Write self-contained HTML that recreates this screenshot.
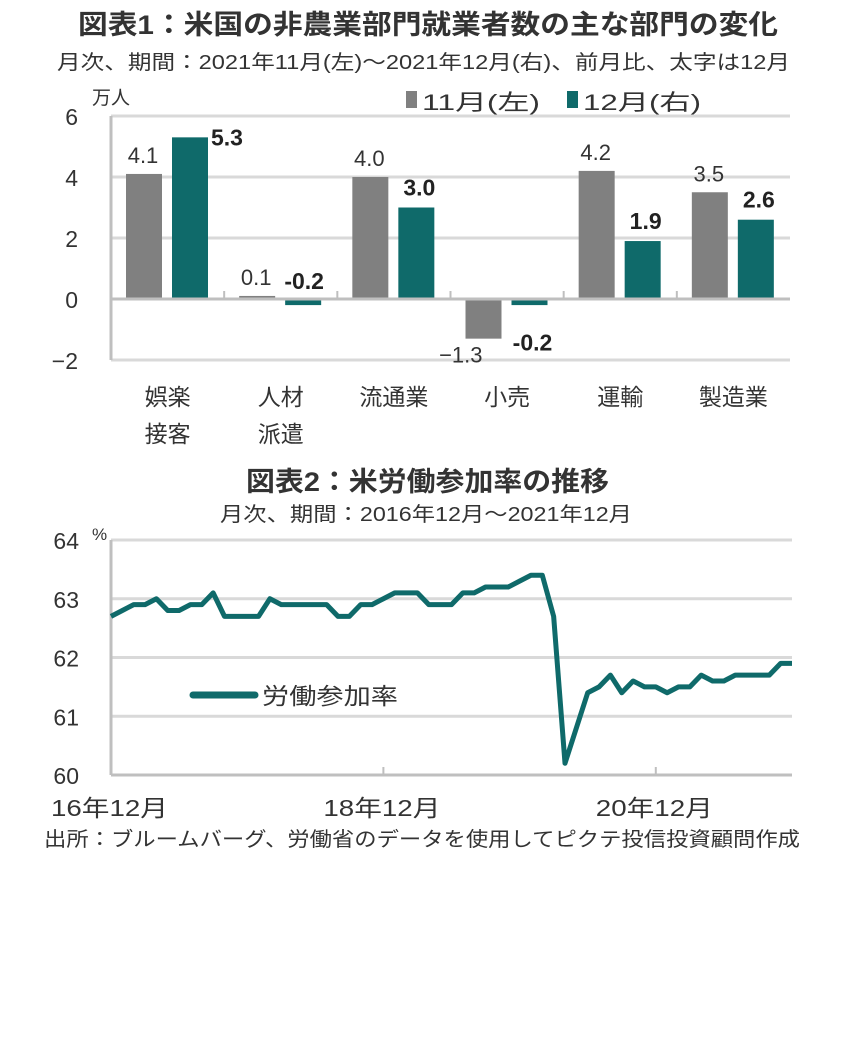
<!DOCTYPE html>
<html><head><meta charset="utf-8"><style>
body{margin:0;background:#fff;width:854px;height:1052px;overflow:hidden}
svg{font-family:"Liberation Sans","Noto Sans CJK JP",sans-serif}
</style></head><body>
<svg id="c" width="854" height="1052">
<text x="78" y="34" font-size="27" font-weight="bold" fill="#333" textLength="700" lengthAdjust="spacingAndGlyphs">図表1：米国の非農業部門就業者数の主な部門の変化</text>
<text x="57" y="69" font-size="20" fill="#333" textLength="733" lengthAdjust="spacingAndGlyphs">月次、期間：2021年11月(左)～2021年12月(右)、前月比、太字は12月</text>
<text x="92" y="104" font-size="19" fill="#333">万人</text>
<rect x="406" y="91" width="11" height="17" fill="#808080"/>
<text x="422" y="110" font-size="22" fill="#333" textLength="118" lengthAdjust="spacingAndGlyphs">11月(左)</text>
<rect x="567" y="91" width="11" height="17" fill="#0f6a6a"/>
<text x="583" y="110" font-size="22" fill="#333" textLength="118" lengthAdjust="spacingAndGlyphs">12月(右)</text>
<g id="g1"></g>
<text x="246" y="491" font-size="27" font-weight="bold" fill="#333" textLength="363" lengthAdjust="spacingAndGlyphs">図表2：米労働参加率の推移</text>
<text x="220" y="521" font-size="20" fill="#333" textLength="412" lengthAdjust="spacingAndGlyphs">月次、期間：2016年12月～2021年12月</text>
<text x="92" y="540" font-size="17" fill="#333">%</text>
<g id="g2"></g>
<line x1="193" y1="695" x2="255" y2="695" stroke="#0f6a6a" stroke-width="7" stroke-linecap="round"/>
<text x="262" y="704" font-size="23" fill="#333" textLength="136" lengthAdjust="spacingAndGlyphs">労働参加率</text>
<text x="44" y="846" font-size="20" fill="#333" textLength="756" lengthAdjust="spacingAndGlyphs">出所：ブルームバーグ、労働省のデータを使用してピクテ投信投資顧問作成</text>
</svg>
<script>
const categories1=[["娯楽","接客"],["人材","派遣"],["流通業"],["小売"],["運輸"],["製造業"]];
const novValues=[4.1,0.1,4.0,-1.3,4.2,3.5];
const decValues=[5.3,-0.2,3.0,-0.2,1.9,2.6];
const yTicks1=[6,4,2,0,-2];
const lfpr=[62.7,62.8,62.9,62.9,63.0,62.8,62.8,62.9,62.9,63.1,62.7,62.7,62.7,62.7,63.0,62.9,62.9,62.9,62.9,62.9,62.7,62.7,62.9,62.9,63.0,63.1,63.1,63.1,62.9,62.9,62.9,63.1,63.1,63.2,63.2,63.2,63.3,63.4,63.4,62.7,60.2,60.8,61.4,61.5,61.7,61.4,61.6,61.5,61.5,61.4,61.5,61.5,61.7,61.6,61.6,61.7,61.7,61.7,61.7,61.9,61.9];
const yTicks2=[64,63,62,61,60];
const xLabels2=["16年12月","18年12月","20年12月"];
const xLabelIdx=[0,24,48];
const NS="http://www.w3.org/2000/svg";
function mk(p,t,a){const e=document.createElementNS(NS,t);for(const k in a)e.setAttribute(k,a[k]);p.appendChild(e);return e;}
const g1=document.getElementById('g1');
const L1=111,R1=790;
const y1=v=>299-v*30.5;
const gw=(R1-L1)/categories1.length;
yTicks1.forEach(t=>{
  if(t!==0){const l=mk(g1,'line',{x1:L1,x2:R1,y1:y1(t),y2:y1(t),stroke:'#d9d9d9','stroke-width':3});}
  const tx=mk(g1,'text',{x:L1-33,y:y1(t)+9,'font-size':23,'text-anchor':'end',fill:'#333'});
  
  tx.textContent=t<0?'−'+Math.abs(t):t;
});
categories1.forEach((c,i)=>{
  const gx=L1+i*gw;
  const nv=novValues[i],dv=decValues[i];
  const b1=mk(g1,'rect',{x:gx+15,y:Math.min(y1(nv),y1(0)),width:36,height:Math.abs(y1(nv)-y1(0)),fill:'#808080'});
  
  const b2=mk(g1,'rect',{x:gx+61,y:Math.min(y1(dv),y1(0)),width:36,height:Math.abs(y1(dv)-y1(0)),fill:'#0f6a6a'});
  
  const t1=mk(g1,'text',{x:gx+32,y:(nv>=0?y1(nv)-11:y1(nv)+24),'font-size':22,'text-anchor':(nv>=0?'middle':'end'),fill:'#333'});
  
  t1.textContent=nv<0?'−'+Math.abs(nv).toFixed(1):nv.toFixed(1);
  let lx=gx+79,ly;
  if(dv>=5){lx=gx+116;ly=y1(dv)+8;}
  else if(dv>=0){ly=y1(dv)-12;lx=gx+82;}
  else if(nv>=0){ly=y1(0)-10;lx=gx+80;}
  else{ly=y1(nv)+12;lx=gx+82;}
  const t2=mk(g1,'text',{x:lx,y:ly,'font-size':23,'font-weight':'bold','text-anchor':'middle',fill:'#222'});
  
  t2.textContent=dv<0?'-'+Math.abs(dv).toFixed(1):dv.toFixed(1);
  c.forEach((s,j)=>{const ct=mk(g1,'text',{x:gx+gw/2,y:405+j*37,'font-size':23,'text-anchor':'middle',fill:'#333'});
    ct.textContent=s;});
  if(i>0){const tk=mk(g1,'line',{x1:gx,x2:gx,y1:y1(0)-8,y2:y1(0),stroke:'#bfbfbf','stroke-width':2});}
});
let ax=mk(g1,'line',{x1:L1,x2:R1,y1:y1(0),y2:y1(0),stroke:'#bfbfbf','stroke-width':3});
ax=mk(g1,'line',{x1:L1,x2:L1,y1:y1(6),y2:y1(-2),stroke:'#bfbfbf','stroke-width':3});
const g2=document.getElementById('g2');
const L2=111,R2=792;
const sx=(R2-L2)/(lfpr.length-1);
const x2=i=>L2+i*sx;
const y2=v=>775-(v-60)*58.75;
yTicks2.forEach(t=>{
  if(t!==60){const l=mk(g2,'line',{x1:L2,x2:R2,y1:y2(t),y2:y2(t),stroke:'#d9d9d9','stroke-width':3});}
  const tx=mk(g2,'text',{x:L2-32,y:y2(t)+9,'font-size':23,'text-anchor':'end',fill:'#333'});
  tx.textContent=t;
});
ax=mk(g2,'line',{x1:L2,x2:R2,y1:y2(60),y2:y2(60),stroke:'#bfbfbf','stroke-width':3});
ax=mk(g2,'line',{x1:L2,x2:L2,y1:y2(64),y2:y2(60),stroke:'#bfbfbf','stroke-width':3});
xLabels2.forEach((s,k)=>{
  const x=x2(xLabelIdx[k]);
  if(k>0){const tk=mk(g2,'line',{x1:x,x2:x,y1:y2(60)-8,y2:y2(60),stroke:'#bfbfbf','stroke-width':2});}
  const tx=mk(g2,'text',{x:x-60,y:816,'font-size':23,fill:'#333',textLength:117,lengthAdjust:'spacingAndGlyphs'});
  tx.textContent=s;
});
const pl=mk(g2,'polyline',{points:lfpr.map((v,i)=>x2(i)+','+y2(v)).join(' '),fill:'none',stroke:'#0f6a6a','stroke-width':5,'stroke-linejoin':'round'});


</script>
</body></html>
